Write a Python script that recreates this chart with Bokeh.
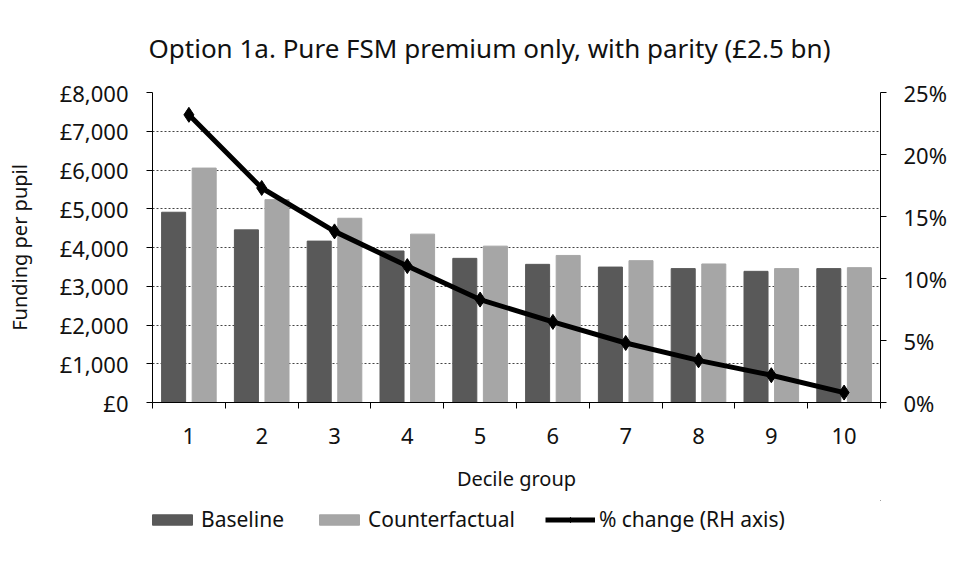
from bokeh.plotting import figure
from bokeh.layouts import column
from bokeh.models import (ColumnDataSource, LinearAxis, Range1d, FixedTicker,
                          Legend, LegendItem, Title)
from bokeh.transform import dodge
from bokeh.embed import file_html
from bokeh.resources import INLINE

deciles = [1, 2, 3, 4, 5, 6, 7, 8, 9, 10]
baseline = [4910, 4455, 4165, 3910, 3720, 3565, 3495, 3455, 3385, 3455]
counterfactual = [6050, 5235, 4755, 4345, 4035, 3795, 3660, 3575, 3455, 3480]
pct_change = [0.232, 0.173, 0.138, 0.110, 0.083, 0.065, 0.048, 0.034, 0.022, 0.008]

y_ticks = [0, 1000, 2000, 3000, 4000, 5000, 6000, 7000, 8000]
y_tick_labels = ["£0", "£1,000", "£2,000", "£3,000", "£4,000", "£5,000", "£6,000", "£7,000", "£8,000"]
pct_ticks = [0, 0.05, 0.10, 0.15, 0.20, 0.25]
pct_tick_labels = ["0%", "5%", "10%", "15%", "20%", "25%"]

FONT = "Noto Sans"
TXT = "#111111"
DARK = "#595959"
LIGHT = "#a6a6a6"

src = ColumnDataSource(dict(decile=deciles, baseline=baseline,
                            counterfactual=counterfactual, pct=pct_change))

W = 949
p = figure(width=W, height=500, output_backend="svg", toolbar_location=None,
           x_range=Range1d(0.5, 10.5), y_range=Range1d(0, 8000),
           min_border_left=152, min_border_right=W - 885, min_border_top=91,
           min_border_bottom=98)
p.outline_line_color = None
p.background_fill_color = "white"
p.border_fill_color = "white"

p.title = Title(text="Option 1a. Pure FSM premium only, with parity (£2.5 bn)",
                align="left", text_font=FONT, text_font_size="26px",
                text_font_style="normal", text_color=TXT, standoff=54, offset=-4)

p.extra_y_ranges = {"pct": Range1d(0, 0.25)}

def draw(fig, yname):
    b = fig.vbar(x=dodge("decile", -0.21, range=fig.x_range), top="baseline", width=0.33,
                 source=src, fill_color=DARK, line_color=DARK)
    c = fig.vbar(x=dodge("decile", 0.21, range=fig.x_range), top="counterfactual", width=0.33,
                 source=src, fill_color=LIGHT, line_color=LIGHT)
    kw = dict(y_range_name=yname) if yname else {}
    l = fig.line(x="decile", y="pct", source=src, line_color="black", line_width=5, **kw)
    m = fig.scatter(x="decile", y="pct", source=src, marker="diamond", size=15,
                    fill_color="black", line_color="black", **kw)
    return b, c, l, m

draw(p, "pct")

# grid
p.xgrid.visible = False
p.ygrid.ticker = FixedTicker(ticks=y_ticks)
p.ygrid.grid_line_color = "#444444"
p.ygrid.grid_line_dash = "2 2"
p.ygrid.grid_line_width = 1

# x axis
xa = p.xaxis[0]
xa.ticker = FixedTicker(ticks=deciles, minor_ticks=[d - 0.5 for d in deciles] + [10.5])
xa.major_tick_out = 0
xa.major_tick_in = 0
xa.minor_tick_out = 6
xa.minor_tick_in = 0
xa.axis_line_color = "black"
xa.major_label_standoff = 19
xa.major_label_text_font = FONT
xa.major_label_text_font_size = "22px"
xa.major_label_text_color = TXT
xa.axis_label = "Decile group"
xa.axis_label_text_font = FONT
xa.axis_label_text_font_size = "20px"
xa.axis_label_text_font_style = "normal"
xa.axis_label_text_color = TXT
xa.axis_label_standoff = 18

# left axis
ya = p.yaxis[0]
ya.ticker = FixedTicker(ticks=y_ticks)
ya.major_label_overrides = {t: l for t, l in zip(y_ticks, y_tick_labels)}
ya.major_tick_out = 6
ya.major_tick_in = 0
ya.minor_tick_out = 0
ya.minor_tick_in = 0
ya.axis_line_color = "black"
ya.major_label_standoff = 18
ya.major_label_text_font = FONT
ya.major_label_text_font_size = "22px"
ya.major_label_text_color = TXT
ya.axis_label = "Funding per pupil"
ya.axis_label_text_font = FONT
ya.axis_label_text_font_size = "20px"
ya.axis_label_text_font_style = "normal"
ya.axis_label_text_color = TXT
ya.axis_label_standoff = 24

# right axis
ra = LinearAxis(y_range_name="pct", ticker=FixedTicker(ticks=pct_ticks))
ra.major_label_overrides = {t: l for t, l in zip(pct_ticks, pct_tick_labels)}
ra.major_tick_out = 6
ra.major_tick_in = 0
ra.minor_tick_out = 0
ra.minor_tick_in = 0
ra.axis_line_color = "black"
ra.major_label_standoff = 17
ra.major_label_text_font = FONT
ra.major_label_text_font_size = "22px"
ra.major_label_text_color = TXT
p.add_layout(ra, "right")

# legend strip under the chart: same series, ranges set so only the legend shows
lg = figure(width=W, height=53, output_backend="svg", toolbar_location=None,
            x_range=Range1d(-20, -19), y_range=Range1d(-20, -19),
            min_border=0, min_border_left=0, min_border_right=0,
            min_border_top=0, min_border_bottom=0)
lg.axis.visible = False
lg.grid.visible = False
lg.outline_line_color = None
lg.border_fill_color = "white"
lg.background_fill_color = "white"
g1, g2, g3, g4 = draw(lg, None)

legend = Legend(items=[
    LegendItem(label="Baseline", renderers=[g1]),
    LegendItem(label="Counterfactual", renderers=[g2]),
    LegendItem(label="% change (RH axis)", renderers=[g3, g4]),
], orientation="horizontal", location=(-5, 20), border_line_color=None,
    background_fill_alpha=0, label_text_font=FONT, label_text_font_size="21px",
    label_text_color=TXT, glyph_width=50, glyph_height=13, label_standoff=4,
    spacing=30, padding=0, margin=0)
lg.add_layout(legend, "center")

layout = column(p, lg, spacing=0)
open("out.html", "w").write(file_html(layout, INLINE))
